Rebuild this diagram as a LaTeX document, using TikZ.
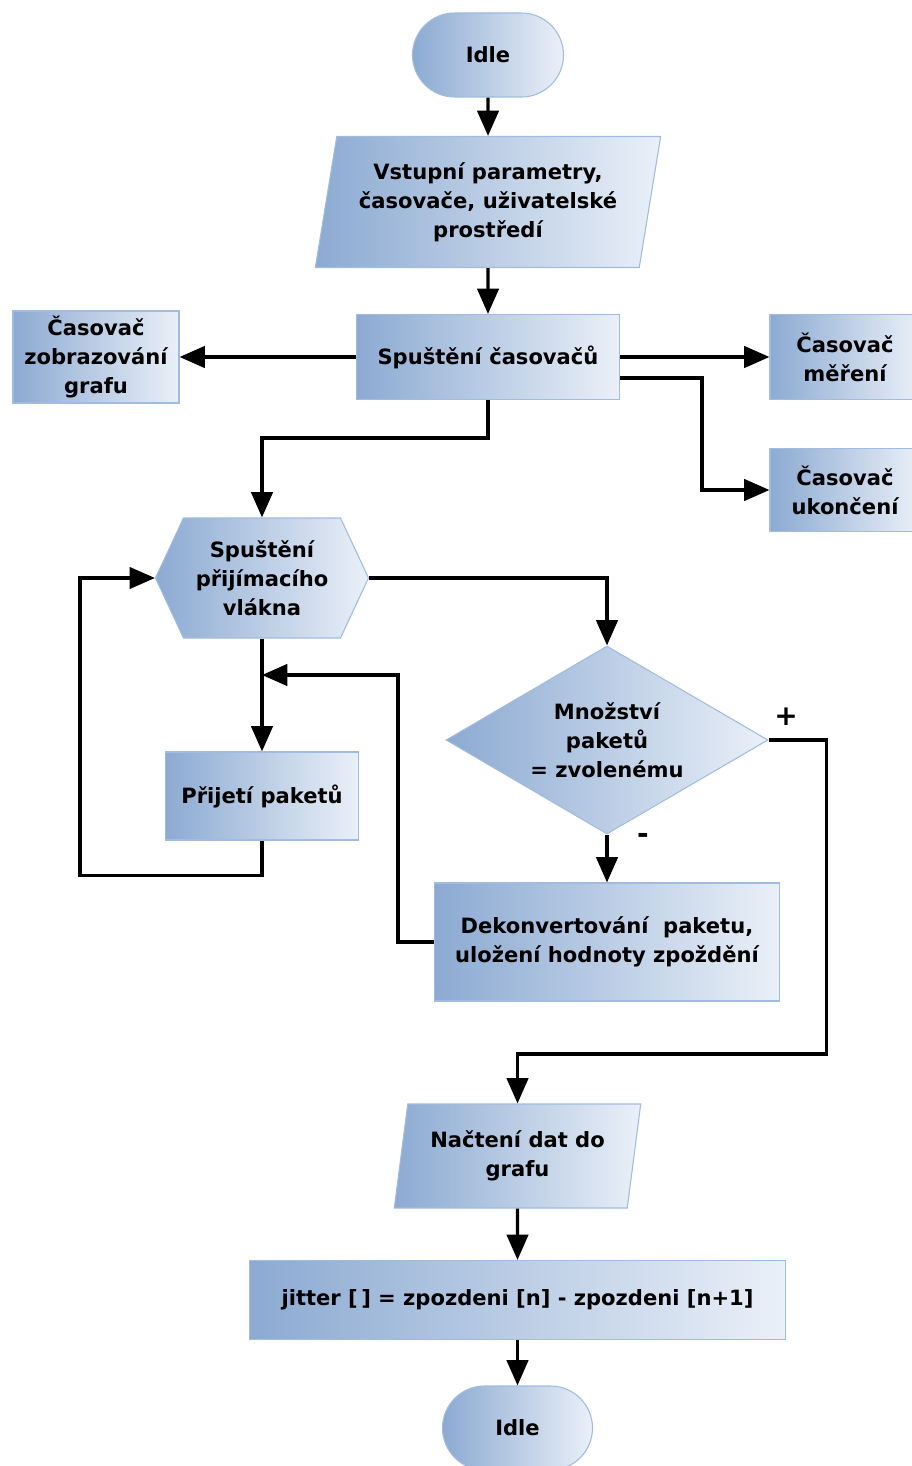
\documentclass[tikz,border=0pt]{standalone}
\usepackage{fontspec}
\setmainfont{DejaVu Sans}
\usetikzlibrary{arrows.meta,shapes.geometric,shapes.misc,shapes.symbols,calc}

\definecolor{boxL}{RGB}{140,170,210}
\definecolor{boxR}{RGB}{234,240,248}
\definecolor{boxEdge}{RGB}{160,188,224}

\begin{document}
\begin{tikzpicture}[x=0.75pt,y=-0.75pt,
  every node/.style={font=\fontsize{15.8}{21.75}\selectfont\bfseries, align=center, inner sep=0pt},
  box/.style={draw=boxEdge, line width=0.8pt, left color=boxL, right color=boxR},
  proc/.style={box, rectangle},
  term/.style={box, rounded rectangle},
  io/.style={box, trapezium, trapezium stretches=true},
  prep/.style={box, signal, signal to=east and west, signal pointer angle=130},
  dec/.style={box, diamond, shape aspect=1.7},
  flow/.style={line width=2.5pt, -{Triangle[length=19pt,width=16pt]}},
  sign/.style={font=\fontsize{21}{21}\selectfont\bfseries}
]
\useasboundingbox (0,0) rectangle (912,1466);

% nodes
\node[term, minimum width=113.25pt, minimum height=63pt] (idleA) at (488,55) {Idle};
\node[io, trapezium left angle=77, trapezium right angle=103,
      minimum width=259.5pt, minimum height=98.25pt] (params) at (488,202)
      {Vstupní parametry,\\časovače, uživatelské\\prostředí};
\node[proc, minimum width=197.25pt, minimum height=63.75pt] (start) at (488,357) {Spuštění časovačů};
\node[proc, minimum width=124.5pt, minimum height=69pt] (graph) at (96,357) {Časovač\\zobrazování\\grafu};
\node[proc, minimum width=112.5pt, minimum height=63.75pt] (meas) at (845,357) {Časovač\\měření};
\node[proc, minimum width=112.5pt, minimum height=62.25pt] (stop) at (845,490) {Časovač\\ukončení};
\node[prep, minimum width=159.75pt, minimum height=90pt] (thread) at (262,578) {Spuštění\\přijímacího\\vlákna};
\node[proc, minimum width=144.75pt, minimum height=66pt] (recv) at (262,796) {Přijetí paketů};
\node[dec, minimum width=241.5pt, minimum height=141pt] (count) at (607,740) {Množství\\paketů\\= zvolenému};
\node[proc, minimum width=258.75pt, minimum height=88.5pt] (decode) at (607,942)
      {Dekonvertování\ \ paketu,\\uložení hodnoty zpoždění};
\node[io, trapezium left angle=78, trapezium right angle=102,
      minimum width=185.25pt, minimum height=78pt] (load) at (517.5,1156) {Načtení dat do\\grafu};
\node[proc, minimum width=402pt, minimum height=59.25pt] (jitter) at (517.5,1300)
      {jitter [\,] = zpozdeni [n] - zpozdeni [n+1]};
\node[term, minimum width=112.5pt, minimum height=63pt] (idleB) at (517.5,1428) {Idle};

\node[sign] (plus) at (786,717) {+};
\node[sign] (minus) at (643,838) {-};
\coordinate (merge) at (262,675);

% connectors
\draw[flow] (idleA) -- (params);
\draw[flow] (params) -- (start);
\draw[flow] (start) -- (graph);
\draw[flow] (start) -- (meas);
\draw[flow] ([yshift=-15.75pt]start.east) -- ++(82,0) |- (stop.west);
\draw[flow] (start.south) -- ++(0,38) -| (thread.north);
\draw[flow] (thread.south) -- (recv.north);
\draw[flow] (recv.south) -- ++(0,35) -- ++(-182,0) |- (thread.west);
\draw[flow] (decode.west) -- ++(-36,0) |- (merge);
\draw[flow] (thread.east) -| (count.north);
\draw[flow] (count.south) -- (decode.north);
\draw[flow] (count.east) -- ++(58,0) -- ++(0,314) -| (load.north);
\draw[flow] (load.south) -- (jitter.north);
\draw[flow] (jitter.south) -- (idleB.north);
\end{tikzpicture}
\end{document}
